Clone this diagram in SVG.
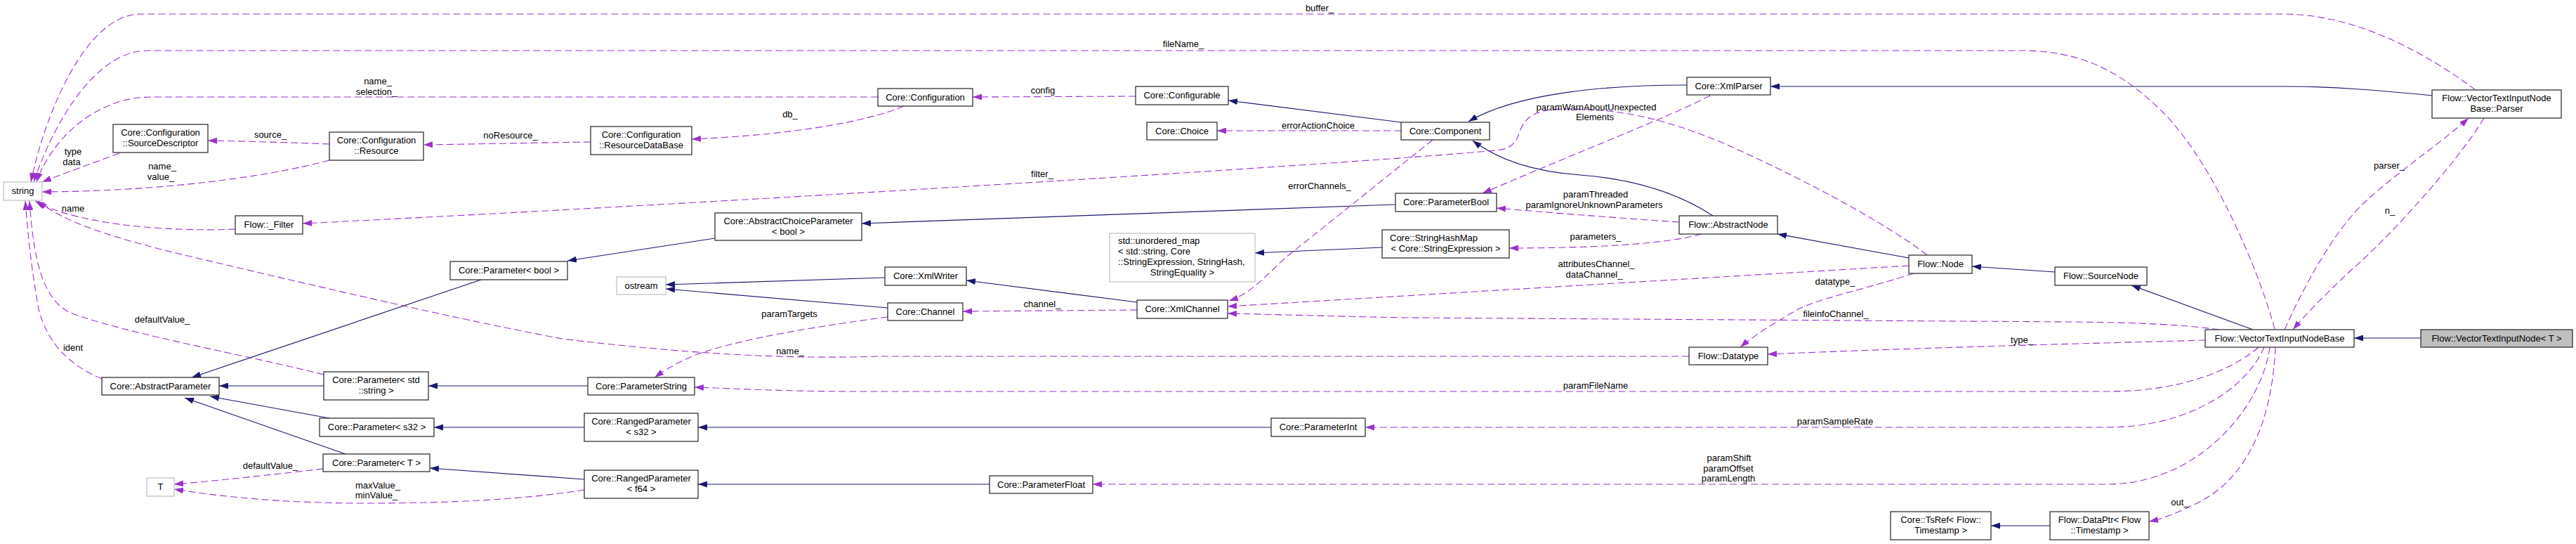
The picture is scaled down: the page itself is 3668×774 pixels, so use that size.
<svg xmlns="http://www.w3.org/2000/svg" width="3668" height="774" viewBox="0 0 3668 774">
<style>
text{font-family:"Liberation Sans",Arial,Helvetica,sans-serif;font-size:13px;fill:#000}
.c{text-anchor:middle}
.l{text-anchor:start}
.b rect{fill:#fff;stroke:#222;stroke-width:1.2}
.g rect{fill:#fff;stroke:#bfbfbf;stroke-width:1.2}
.h rect{fill:#bfbfbf;stroke:#222;stroke-width:1.2}
.inh{fill:none;stroke:#191970;stroke-width:1.2;marker-end:url(#ab)}
.use{fill:none;stroke:#9a32cd;stroke-width:1.1;stroke-dasharray:10,5;marker-end:url(#ap)}
</style>
<defs>
<marker id="ab" viewBox="0 0 13 9" refX="13" refY="4.5" markerWidth="13" markerHeight="9" markerUnits="userSpaceOnUse" orient="auto"><path d="M0,0 L13,4.5 L0,9 z" fill="#191970"/></marker>
<marker id="ap" viewBox="0 0 13 9" refX="13" refY="4.5" markerWidth="13" markerHeight="9" markerUnits="userSpaceOnUse" orient="auto"><path d="M0,0 L13,4.5 L0,9 z" fill="#9a32cd"/></marker>
</defs>
<rect width="3668" height="774" fill="#fff"/>
<g id="connectors">
<path class="inh" d="M685,398 L273,537"/>
<path class="inh" d="M461,549 L312,549"/>
<path class="inh" d="M469,595 L299,564"/>
<path class="inh" d="M492,646 L263,566"/>
<path class="inh" d="M1018,339 L808,371"/>
<path class="inh" d="M1987,291 L1227,318"/>
<path class="inh" d="M837,549 L610,549"/>
<path class="inh" d="M832,608 L618,608"/>
<path class="inh" d="M832,682 L612,666"/>
<path class="inh" d="M1810,608 L994,608"/>
<path class="inh" d="M1409,689 L994,689"/>
<path class="inh" d="M1260,395 L948,405"/>
<path class="inh" d="M1264,438 L948,411"/>
<path class="inh" d="M1619,430 L1376,399"/>
<path class="inh" d="M1995,174 L1749,143"/>
<path class="inh" d="M2402,121 C2290,121 2160,132 2091,173"/>
<path class="inh" d="M2439,307 C2390,275 2330,255 2250,249 C2180,244 2130,225 2097,200"/>
<path class="inh" d="M3463,136 C3380,128 3320,123 3260,123 L2521,123"/>
<path class="inh" d="M2718,367 L2531,333"/>
<path class="inh" d="M2926,387 L2808,379"/>
<path class="inh" d="M3208,469 L3035,406"/>
<path class="inh" d="M3447,481 L3352,481"/>
<path class="inh" d="M1968,352 L1787,360"/>
<path class="inh" d="M2919,748 L2835,748"/>

<path class="use" d="M3525,128 C3460,80 3360,20 3250,20 L200,20 C120,20 62,170 44,259"/>
<path class="use" d="M3239,468 C3215,380 3150,230 3080,160 C3020,100 2960,72 2880,72 L210,72 C140,72 80,165 48,259"/>
<path class="use" d="M1250,138 L215,138 C135,138 72,200 52,259"/>
<path class="use" d="M170,218 C130,233 95,245 60,259"/>
<path class="use" d="M469,228 C380,252 230,272 60,273"/>
<path class="use" d="M335,326 C240,330 110,320 50,286"/>
<path class="use" d="M2405,507 L1250,507 C1100,512 950,500 800,482 C620,448 400,395 250,360 C150,335 90,315 54,286"/>
<path class="use" d="M145,539 C100,520 68,490 55,440 C46,390 40,340 36,286"/>
<path class="use" d="M461,533 C350,505 180,475 100,445 C60,425 48,370 42,286"/>
<path class="use" d="M460,667 C390,675 310,684 248,689"/>
<path class="use" d="M832,697 C750,710 650,716 520,716 C400,716 310,706 248,696"/>
<path class="use" d="M469,205 C420,203 350,201 296,200"/>
<path class="use" d="M841,202 C760,203 680,205 603,206"/>
<path class="use" d="M1287,151 C1230,175 1120,192 985,198"/>
<path class="use" d="M1617,137 L1385,138"/>
<path class="use" d="M1995,186 L1733,186"/>
<path class="use" d="M2744,363 C2690,320 2560,250 2450,202 C2360,165 2300,155 2230,155 C2180,155 2170,170 2163,190 C2158,205 2150,212 2130,214 C1900,235 1000,290 431,318"/>
<path class="use" d="M2435,136 C2380,165 2250,215 2111,275"/>
<path class="use" d="M2391,316 C2300,310 2200,302 2131,296"/>
<path class="use" d="M2423,333 C2370,348 2260,353 2149,353"/>
<path class="use" d="M2040,199 L1830,367 C1800,395 1780,418 1750,428"/>
<path class="use" d="M2718,378 C2550,388 2100,415 1748,436"/>
<path class="use" d="M3160,469 C3110,462 3050,459 2950,458 L2000,452 C1900,450 1800,447 1748,446"/>
<path class="use" d="M2725,389 C2660,410 2590,425 2560,440 C2530,458 2500,475 2478,494"/>
<path class="use" d="M3140,484 C3000,488 2750,494 2517,504"/>
<path class="use" d="M1264,451 C1180,462 1060,480 990,505 C960,518 945,528 932,537"/>
<path class="use" d="M3216,494 C3180,525 3110,557 3000,557 L1230,557 C1120,557 1050,553 989,551"/>
<path class="use" d="M3224,494 C3200,550 3120,608 3000,608 L1944,608"/>
<path class="use" d="M3232,494 C3220,580 3130,689 3000,689 L1556,689"/>
<path class="use" d="M3240,494 C3235,600 3200,680 3130,715 C3100,730 3080,738 3060,742"/>
<path class="use" d="M3253,469 C3275,420 3320,330 3370,285 C3420,240 3480,200 3515,168"/>
<path class="use" d="M3537,168 C3500,230 3400,340 3346,386 C3310,420 3285,445 3265,469"/>
<path class="use" d="M1619,441 L1371,443"/>
</g>
<g id="labels">
<text class="c" x="1879" y="16">buffer_</text>
<text class="c" x="1685" y="67">fileName_</text>
<text class="c" x="538" y="120">name_</text>
<text class="c" x="536" y="135">selection_</text>
<text class="c" x="1485" y="133">config</text>
<text class="c" x="1125" y="167">db_</text>
<text class="c" x="1877" y="183">errorActionChoice</text>
<text class="c" x="2273" y="157">paramWarnAboutUnexpected</text>
<text class="c" x="2271" y="171">Elements</text>
<text class="c" x="385" y="196">source_</text>
<text class="c" x="727" y="197">noResource_</text>
<text class="c" x="104" y="220">type</text>
<text class="c" x="102" y="235">data</text>
<text class="c" x="231" y="241">name_</text>
<text class="c" x="229" y="256">value_</text>
<text class="c" x="1484" y="252">filter_</text>
<text class="c" x="1879" y="269">errorChannels_</text>
<text class="c" x="3402" y="240">parser_</text>
<text class="c" x="2272" y="281">paramThreaded</text>
<text class="c" x="2270" y="296">paramIgnoreUnknownParameters</text>
<text class="c" x="104" y="301">name</text>
<text class="c" x="3403" y="304">n_</text>
<text class="c" x="2272" y="341">parameters_</text>
<text class="c" x="2273" y="380">attributesChannel_</text>
<text class="c" x="2270" y="395">dataChannel_</text>
<text class="c" x="2613" y="405">datatype_</text>
<text class="c" x="1484" y="437">channel_</text>
<text class="c" x="1124" y="451">paramTargets</text>
<text class="c" x="2614" y="451">fileinfoChannel_</text>
<text class="c" x="231" y="459">defaultValue_</text>
<text class="c" x="2879" y="488">type_</text>
<text class="c" x="104" y="499">ident</text>
<text class="c" x="1125" y="504">name_</text>
<text class="c" x="2272" y="553">paramFileName</text>
<text class="c" x="2613" y="604">paramSampleRate</text>
<text class="c" x="2462" y="656">paramShift</text>
<text class="c" x="2461" y="671">paramOffset</text>
<text class="c" x="2461" y="685">paramLength</text>
<text class="c" x="385" y="667">defaultValue_</text>
<text class="c" x="538" y="695">maxValue_</text>
<text class="c" x="536" y="709">minValue_</text>
<text class="c" x="3104" y="719">out_</text>
</g>
<g id="string" class="g"><rect x="5" y="259" width="55" height="26"/><text class="c" x="32.5" y="276">string</text></g>
<g id="sourcedescriptor" class="b"><rect x="161" y="177" width="135" height="40"/><text class="c" x="228.5" y="193">Core::Configuration</text><text class="c" x="228.5" y="208">::SourceDescriptor</text></g>
<g id="resource" class="b"><rect x="469" y="188" width="134" height="40"/><text class="c" x="536" y="204">Core::Configuration</text><text class="c" x="536" y="219">::Resource</text></g>
<g id="filter" class="b"><rect x="335" y="307" width="96" height="26"/><text class="c" x="383" y="324">Flow::_Filter</text></g>
<g id="abstractparameter" class="b"><rect x="145" y="537" width="167" height="25"/><text class="c" x="228.5" y="554">Core::AbstractParameter</text></g>
<g id="parameter_string" class="b"><rect x="461" y="529" width="149" height="40"/><text class="c" x="535.5" y="545">Core::Parameter&lt; std</text><text class="c" x="535.5" y="560">::string &gt;</text></g>
<g id="parameter_s32" class="b"><rect x="455" y="595" width="163" height="26"/><text class="c" x="536.5" y="612">Core::Parameter&lt; s32 &gt;</text></g>
<g id="parameter_T" class="b"><rect x="460" y="646" width="152" height="25"/><text class="c" x="536" y="663">Core::Parameter&lt; T &gt;</text></g>
<g id="T" class="g"><rect x="209" y="680" width="39" height="26"/><text class="c" x="228.5" y="697">T</text></g>
<g id="resourcedatabase" class="b"><rect x="841" y="180" width="144" height="40"/><text class="c" x="913" y="196">Core::Configuration</text><text class="c" x="913" y="211">::ResourceDataBase</text></g>
<g id="abstractchoiceparameter" class="b"><rect x="1018" y="303" width="209" height="39"/><text class="c" x="1122.5" y="319">Core::AbstractChoiceParameter</text><text class="c" x="1122.5" y="334">&lt; bool &gt;</text></g>
<g id="parameter_bool" class="b"><rect x="641" y="372" width="167" height="26"/><text class="c" x="724.5" y="389">Core::Parameter&lt; bool &gt;</text></g>
<g id="ostream" class="g"><rect x="878" y="394" width="70" height="25"/><text class="c" x="913" y="411">ostream</text></g>
<g id="parameterstring" class="b"><rect x="837" y="537" width="152" height="25"/><text class="c" x="913" y="554">Core::ParameterString</text></g>
<g id="rangedparameter_s32" class="b"><rect x="832" y="588" width="162" height="40"/><text class="c" x="913" y="604">Core::RangedParameter</text><text class="c" x="913" y="619">&lt; s32 &gt;</text></g>
<g id="rangedparameter_f64" class="b"><rect x="832" y="669" width="162" height="40"/><text class="c" x="913" y="685">Core::RangedParameter</text><text class="c" x="913" y="700">&lt; f64 &gt;</text></g>
<g id="configuration" class="b"><rect x="1250" y="126" width="135" height="25"/><text class="c" x="1317.5" y="143">Core::Configuration</text></g>
<g id="configurable" class="b"><rect x="1617" y="123" width="132" height="26"/><text class="c" x="1683" y="140">Core::Configurable</text></g>
<g id="choice" class="b"><rect x="1633" y="174" width="100" height="25"/><text class="c" x="1683" y="191">Core::Choice</text></g>
<g id="unordered_map" class="g"><rect x="1580" y="332" width="207" height="69"/><text class="l" x="1592" y="347">std::unordered_map</text><text class="l" x="1592" y="362">&lt; std::string, Core</text><text class="l" x="1592" y="377">::StringExpression, StringHash,</text><text class="c" x="1683.5" y="392">StringEquality &gt;</text></g>
<g id="xmlwriter" class="b"><rect x="1260" y="380" width="116" height="26"/><text class="c" x="1318" y="397">Core::XmlWriter</text></g>
<g id="channel" class="b"><rect x="1264" y="431" width="107" height="25"/><text class="c" x="1317.5" y="448">Core::Channel</text></g>
<g id="xmlchannel" class="b"><rect x="1619" y="427" width="129" height="26"/><text class="c" x="1683.5" y="444">Core::XmlChannel</text></g>
<g id="parameterint" class="b"><rect x="1810" y="595" width="134" height="26"/><text class="c" x="1877" y="612">Core::ParameterInt</text></g>
<g id="parameterfloat" class="b"><rect x="1409" y="677" width="147" height="25"/><text class="c" x="1482.5" y="694">Core::ParameterFloat</text></g>
<g id="component" class="b"><rect x="1995" y="174" width="126" height="25"/><text class="c" x="2058" y="191">Core::Component</text></g>
<g id="xmlparser" class="b"><rect x="2402" y="110" width="119" height="25"/><text class="c" x="2461.5" y="127">Core::XmlParser</text></g>
<g id="parameterbool" class="b"><rect x="1987" y="275" width="144" height="26"/><text class="c" x="2059" y="292">Core::ParameterBool</text></g>
<g id="stringhashmap" class="b"><rect x="1968" y="327" width="181" height="40"/><text class="l" x="1979" y="343">Core::StringHashMap</text><text class="c" x="2058.5" y="358">&lt; Core::StringExpression &gt;</text></g>
<g id="abstractnode" class="b"><rect x="2391" y="307" width="140" height="26"/><text class="c" x="2461" y="324">Flow::AbstractNode</text></g>
<g id="datatype" class="b"><rect x="2405" y="494" width="112" height="25"/><text class="c" x="2461" y="511">Flow::Datatype</text></g>
<g id="node" class="b"><rect x="2718" y="363" width="90" height="26"/><text class="c" x="2763" y="380">Flow::Node</text></g>
<g id="sourcenode" class="b"><rect x="2926" y="380" width="131" height="26"/><text class="c" x="2991.5" y="397">Flow::SourceNode</text></g>
<g id="tsref" class="b"><rect x="2692" y="728" width="143" height="40"/><text class="c" x="2763.5" y="744">Core::TsRef&lt; Flow::</text><text class="c" x="2763.5" y="759">Timestamp &gt;</text></g>
<g id="dataptr" class="b"><rect x="2919" y="728" width="141" height="40"/><text class="c" x="2989.5" y="744">Flow::DataPtr&lt; Flow</text><text class="c" x="2989.5" y="759">::Timestamp &gt;</text></g>
<g id="parser" class="b"><rect x="3463" y="128" width="184" height="40"/><text class="c" x="3555" y="144">Flow::VectorTextInputNode</text><text class="c" x="3555" y="159">Base::Parser</text></g>
<g id="vectortextinputnodebase" class="b"><rect x="3140" y="469" width="212" height="25"/><text class="c" x="3246" y="486">Flow::VectorTextInputNodeBase</text></g>
<g id="vectortextinputnode" class="h"><rect x="3447" y="469" width="216" height="25"/><text class="c" x="3555" y="486">Flow::VectorTextInputNode&lt; T &gt;</text></g>
</svg>
